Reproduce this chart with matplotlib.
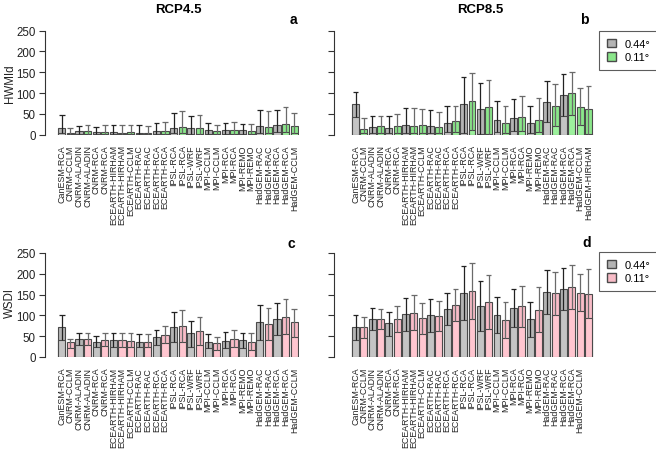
import matplotlib
matplotlib.use("Agg")
import matplotlib.pyplot as plt
from matplotlib.patches import Patch

plt.rcParams['font.family'] = ['Liberation Sans', 'DejaVu Sans']

# model labels (RCP4.5 panels and WSDI RCP8.5 panel show 28 labels)
labels_28 = ["CanESM-RCA", "CNRM-CCLM", "CNRM-ALADIN", "CNRM-ALADIN", "CNRM-RCA", "CNRM-RCA",
             "ECEARTH-HIRHAM", "ECEARTH-HIRHAM", "ECEARTH-CCLM", "ECEARTH-RAC", "ECEARTH-RAC",
             "ECEARTH-RCA", "ECEARTH-RCA", "IPSL-RCA", "IPSL-RCA", "IPSL-WRF", "IPSL-WRF",
             "MPI-CCLM", "MPI-CCLM", "MPI-RCA", "MPI-RCA", "MPI-REMO", "MPI-REMO",
             "HadGEM-RAC", "HadGEM-RAC", "HadGEM-RCA", "HadGEM-RCA", "HadGEM-CCLM"]
labels_29 = labels_28 + ["HadGEM-HIRHAM"]

# resolution of each bar: 0 = 0.44 deg, 1 = 0.11 deg
res_28 = [0, 1, 0, 1, 0, 1, 0, 1, 1, 0, 1, 0, 1, 0, 1, 0, 1, 0, 1, 0, 1, 0, 1, 0, 1, 0, 1, 1]
res_29 = res_28 + [1]

# panel a: HWMId RCP4.5
top_a = [17, 5, 8, 8, 6, 7, 6, 5, 6, 5, 5, 9, 9, 17, 18, 15, 16, 10, 8, 10, 11, 10, 9, 20, 18, 22, 25, 20]
low_a = [5, 1, 2, 2, 1, 2, 1, 1, 1, 1, 1, 2, 2, 3, 3, 1, 2, 2, 2, 2, 2, 2, 2, 5, 4, 6, 7, 5]
high_a = [46, 17, 21, 22, 19, 23, 23, 22, 23, 22, 21, 29, 31, 52, 57, 44, 48, 27, 23, 29, 31, 26, 26, 58, 56, 59, 66, 53]

# panel b: HWMId RCP8.5
top_b = [73, 14, 19, 21, 17, 20, 23, 21, 23, 21, 18, 29, 33, 73, 80, 62, 67, 35, 27, 39, 42, 28, 34, 79, 70, 95, 99, 67, 61]
low_b = [42, 3, 4, 5, 3, 4, 4, 4, 5, 4, 3, 6, 7, 5, 12, 2, 2, 6, 4, 8, 8, 5, 6, 30, 20, 44, 46, 22, 2]
high_b = [103, 39, 44, 44, 44, 50, 64, 64, 61, 60, 55, 68, 70, 138, 149, 124, 131, 80, 68, 85, 92, 68, 89, 128, 122, 147, 151, 113, 118]

# panel c: WSDI RCP4.5
top_c = [71, 35, 43, 43, 36, 42, 40, 40, 38, 37, 37, 47, 53, 71, 74, 58, 63, 37, 33, 38, 44, 40, 37, 83, 79, 91, 97, 83]
low_c = [40, 21, 28, 28, 25, 27, 25, 24, 25, 24, 24, 30, 33, 35, 35, 25, 30, 21, 17, 22, 23, 21, 17, 40, 40, 52, 56, 49]
high_c = [102, 44, 57, 57, 50, 58, 58, 58, 57, 56, 55, 66, 74, 107, 112, 87, 95, 56, 49, 60, 65, 57, 57, 126, 117, 130, 139, 115]

# panel d: WSDI RCP8.5
top_d = [71, 71, 91, 91, 81, 91, 103, 106, 93, 102, 99, 115, 125, 154, 159, 122, 132, 100, 90, 117, 123, 92, 114, 157, 154, 163, 169, 155, 151]
low_d = [40, 45, 65, 67, 51, 59, 62, 65, 55, 61, 62, 78, 86, 89, 91, 62, 67, 58, 45, 72, 73, 47, 59, 103, 102, 113, 115, 110, 94]
high_d = [102, 97, 117, 115, 108, 123, 143, 148, 131, 139, 135, 154, 163, 219, 227, 183, 196, 144, 132, 163, 171, 133, 168, 208, 204, 215, 221, 200, 211]

grey_up, grey_low = "#B4B4B4", "#C4C4C4"
green_up, green_low = "#8AE68A", "#9CF09C"
pink_up, pink_low = "#F8BCC7", "#FFC6D0"
edge = "#4a4a4a"

fig = plt.figure(figsize=(6.56, 4.52), dpi=100)
W, H = 656, 452


def make_ax(x0, x1, y250, y0):
    return fig.add_axes([x0 / W, 1 - y0 / H, (x1 - x0) / W, (y0 - y250) / H])


def panel(ax, top, low, high, res, labels, colour, xlim, show_y):
    n = len(top)
    xs = list(range(n))
    cols_up = [grey_up if r == 0 else colour[0] for r in res]
    cols_low = [grey_low if r == 0 else colour[1] for r in res]
    w = 0.83
    ax.bar(xs, top, width=w, color=cols_up, edgecolor=edge, linewidth=0.8, zorder=2)
    ax.bar(xs, low, width=w, color=cols_low, edgecolor=edge, linewidth=0.8, zorder=2)
    for i in xs:
        c = "#222222" if res[i] == 0 else "#6a6a6a"
        ax.vlines(i, low[i], high[i], color=c, linewidth=0.9, zorder=3)
        ax.hlines(high[i], i - 0.33, i + 0.33, color=c, linewidth=0.9, zorder=3)
    ax.set_xlim(*xlim)
    ax.set_ylim(0, 250)
    for s in ["top", "right", "bottom"]:
        ax.spines[s].set_visible(False)
    ax.spines["left"].set_color("#333333")
    ax.spines["left"].set_linewidth(0.8)
    ax.set_yticks([0, 50, 100, 150, 200, 250])
    ax.tick_params(axis="y", length=4.5, width=0.8, color="#333333", labelsize=8.3, pad=2,
                   labelcolor="#222222")
    if not show_y:
        ax.set_yticklabels([])
    ax.set_xticks(xs[:len(labels)])
    ax.set_xticklabels(labels, rotation=90, fontsize=6.4, va="top", ha="center", color="#222222")
    ax.tick_params(axis="x", length=0, pad=7)


ax_a = make_ax(45, 299, 31.7, 135.6)
ax_b = make_ax(334, 594, 31.7, 135.6)
ax_c = make_ax(45, 299, 254, 358)
ax_d = make_ax(334, 594, 254, 358)

panel(ax_a, top_a, low_a, high_a, res_28, labels_28, (green_up, green_low), (-1.94, 27.55), True)
panel(ax_b, top_b, low_b, high_b, res_29, labels_29, (green_up, green_low), (-2.6, 28.67), False)
panel(ax_c, top_c, low_c, high_c, res_28, labels_28, (pink_up, pink_low), (-1.94, 27.55), True)
panel(ax_d, top_d, low_d, high_d, res_29, labels_28, (pink_up, pink_low), (-2.6, 28.67), False)

fig.text(10 / W, 1 - 84 / H, "HWMId", fontsize=8.3, rotation=90, ha="center", va="center",
         color="#222222")
fig.text(10 / W, 1 - 303 / H, "WSDI", fontsize=8.3, rotation=90, ha="center", va="center",
         color="#222222")

fig.text(178 / W, 1 - 10 / H, "RCP4.5", fontsize=9.5, fontweight="bold", ha="center", va="center")
fig.text(480 / W, 1 - 10 / H, "RCP8.5", fontsize=9.5, fontweight="bold", ha="center", va="center")
for lab, x, y in [("a", 293, 20), ("b", 584, 20), ("c", 291, 244), ("d", 587, 243)]:
    fig.text(x / W, 1 - y / H, lab, fontsize=10, fontweight="bold", ha="center", va="center")

for ybox, colour in [(32, green_up), (253, pink_up)]:
    handles = [Patch(facecolor=grey_up, edgecolor=edge, label="0.44°"),
               Patch(facecolor=colour, edgecolor=edge, label="0.11°")]
    leg = fig.legend(handles=handles, loc="upper left", bbox_to_anchor=(599 / W, 1 - ybox / H),
                     fontsize=8, frameon=True, fancybox=False, borderaxespad=0,
                     handlelength=0.8, handleheight=0.8, handletextpad=0.8,
                     borderpad=0.7, labelspacing=0.3)
    leg.get_frame().set_edgecolor("#333333")
    leg.get_frame().set_linewidth(0.8)

fig.savefig("out.png", dpi=100)
